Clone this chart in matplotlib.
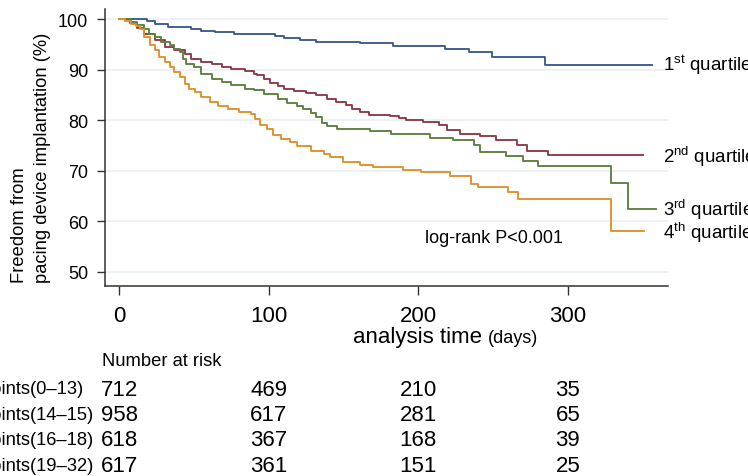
import matplotlib
matplotlib.use("Agg")
import matplotlib.pyplot as plt
import matplotlib.transforms as mtransforms

plt.rcParams['font.family'] = ['Liberation Sans', 'DejaVu Sans']
plt.rcParams['mathtext.fontset'] = 'custom'
plt.rcParams['mathtext.rm'] = 'Liberation Sans'
plt.rcParams['mathtext.it'] = 'Liberation Sans:italic'

# ---- data ----
t_q1 = [0, 19, 24, 33, 48, 55, 64, 77, 104, 110, 121, 132, 161, 183, 218, 234, 249, 285, 356]
s_q1 = [100, 99.7, 99.1, 98.4, 98.1, 97.7, 97.4, 97.1, 96.6, 96.3, 95.8, 95.4, 95.3, 94.7, 94.0, 93.5,
        92.5, 91.0, 91.0]

t_q2 = [0, 7, 12, 17, 24, 31, 37, 44, 48, 55, 62, 69, 75, 84, 90, 92, 97, 101, 106, 110, 117, 125,
        132, 139, 145, 152, 156, 161, 167, 181, 187, 192, 203, 214, 219, 228, 241, 252, 266, 273, 287, 350]
s_q2 = [100, 99.3, 98.3, 97.1, 95.8, 94.5, 93.8, 93.1, 92.2, 91.5, 91.2, 90.5, 90.2, 89.8, 89.2, 88.9,
        88.2, 87.4, 86.8, 86.1, 85.7, 85.4, 84.9, 84.2, 83.6, 83.1, 82.3, 81.6, 81.1, 80.8, 80.4, 80.0,
        79.6, 79.0, 78.0, 77.3, 76.9, 76.0, 75.0, 74.0, 73.2, 73.2]

t_q3 = [0, 8, 12, 17, 20, 24, 28, 34, 37, 41, 43, 45, 50, 55, 62, 69, 75, 84, 90, 97, 106, 112, 119,
        123, 128, 132, 136, 139, 146, 168, 182, 208, 223, 237, 241, 259, 270, 280, 329, 340, 359]
s_q3 = [100, 99.5, 98.8, 98.1, 97.1, 96.4, 95.5, 94.8, 94.1, 93.5, 92.2, 91.2, 90.5, 89.2, 88.2, 87.5,
        86.9, 86.2, 85.9, 85.2, 84.2, 83.5, 82.9, 82.3, 81.5, 80.6, 79.5, 78.9, 78.3, 77.8, 77.3, 76.5,
        76.0, 75.0, 73.8, 72.9, 71.9, 70.9, 67.6, 62.5, 62.5]

t_q4 = [0, 4, 8, 11, 14, 17, 21, 24, 27, 31, 34, 37, 41, 44, 47, 51, 55, 61, 66, 73, 80, 88, 91, 94,
        99, 103, 108, 114, 119, 128, 137, 141, 150, 161, 170, 190, 202, 221, 235, 240, 260, 267, 329, 351]
s_q4 = [100, 99.6, 99.1, 98.6, 98.1, 96.4, 94.8, 93.8, 92.5, 91.5, 90.5, 89.5, 88.5, 87.2, 86.2, 85.6,
        84.6, 83.6, 82.9, 82.3, 81.6, 81.3, 80.3, 79.0, 78.3, 77.1, 76.3, 75.7, 74.9, 74.0, 73.4, 72.7,
        71.8, 71.1, 70.8, 70.1, 69.7, 68.9, 67.4, 66.8, 65.8, 64.5, 58.1, 58.1]

series_labels = ["1$^{\\rm st}$ quartile", "2$^{\\rm nd}$ quartile", "3$^{\\rm rd}$ quartile", "4$^{\\rm th}$ quartile"]
series_colors = ["#3b5a8c", "#8b3a4a", "#5f7f3f", "#e0902d"]

risk_times = [0, 100, 200, 300]
risk_groups = ["points(0\u201313)", "points(14\u201315)", "points(16\u201318)", "points(19\u201332)"]
risk_q1 = [712, 469, 210, 35]
risk_q2 = [958, 617, 281, 65]
risk_q3 = [618, 367, 168, 39]
risk_q4 = [617, 361, 151, 25]

xticks = [0, 100, 200, 300]
yticks = [50, 60, 70, 80, 90, 100]

# ---- figure ----
W, H = 748, 477
fig = plt.figure(figsize=(W / 100, H / 100), dpi=100)

def fx(x):
    return x / W

def fy(y):
    return 1 - y / H

ax = fig.add_axes([fx(105), fy(287), fx(668) - fx(105), fy(10) - fy(287)])
ax.set_xlim(-9.4, 367)
ax.set_ylim(47.2, 102.0)

for y in yticks:
    ax.axhline(y, color="#e9f0f4", lw=1.2, zorder=0)

curves = [(t_q1, s_q1), (t_q2, s_q2), (t_q3, s_q3), (t_q4, s_q4)]
for (t, s), c in zip(curves, series_colors):
    ax.step(t, s, where="post", color=c, lw=1.35, zorder=3)

for spine in ["top", "right"]:
    ax.spines[spine].set_visible(False)
for spine in ["left", "bottom"]:
    ax.spines[spine].set_color("#333333")
    ax.spines[spine].set_linewidth(1.1)

ax.set_xticks(xticks)
ax.set_yticks(yticks)
ax.tick_params(axis="x", direction="out", length=6.5, width=1.0, color="#333333",
               labelsize=16, pad=7)
ax.tick_params(axis="y", direction="out", length=6, width=1.0, color="#333333",
               labelsize=13, pad=6)

# curve labels
lab_px_y = [65, 157, 210, 233]
for lab, yy in zip(series_labels, lab_px_y):
    fig.text(fx(662.7), fy(yy), lab, fontsize=13.5, ha="left", va="center")

ax.text(250.5, 56.8, "log-rank P<0.001", fontsize=13, ha="center", va="center")

# y label
fig.text(fx(31), fy(157.5), "Freedom from\npacing device implantation (%)", rotation=90,
         fontsize=13.2, ha="center", va="center", multialignment="left", linespacing=1.45)

# x label
fig.text(fx(353), fy(343), "analysis time", fontsize=16, ha="left", va="baseline")
fig.text(fx(488), fy(343), "(days)", fontsize=13, ha="left", va="baseline")

# number at risk table
fig.text(fx(102), fy(362), "Number at risk", fontsize=13.2, ha="left", va="center")
trans = mtransforms.blended_transform_factory(ax.transData, fig.transFigure)
rows_y = [390, 415.5, 441, 467]
for name, vals, yy in zip(risk_groups, [risk_q1, risk_q2, risk_q3, risk_q4], rows_y):
    fig.text(fx(-18), fy(yy), name, fontsize=13.2, ha="left", va="center")
    for t, v in zip(risk_times, vals):
        ax.text(t, fy(yy), str(v), transform=trans, fontsize=16, ha="center", va="center",
                clip_on=False)

fig.savefig("out.png", dpi=100)
